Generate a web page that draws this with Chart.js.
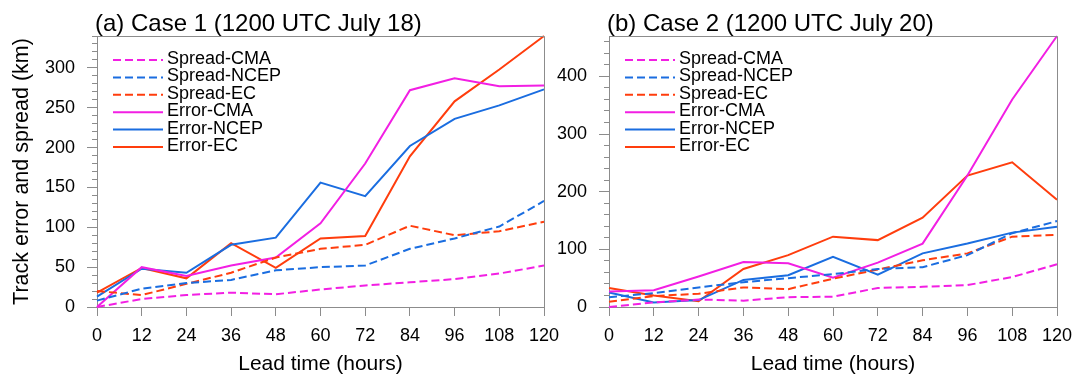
<!DOCTYPE html>
<html>
<head>
<meta charset="utf-8">
<script src="https://cdn.jsdelivr.net/npm/chart.js@4/dist/chart.umd.min.js"></script>
<style>
  html, body { margin: 0; padding: 0; background: #ffffff; }
  body { width: 1075px; height: 378px; position: relative; overflow: hidden; }
  #c1 { position: absolute; left: 0; top: 0; }
  #c2 { position: absolute; left: 540px; top: 0; }
</style>
</head>
<body>
<canvas id="c1" width="565" height="378"></canvas>
<canvas id="c2" width="535" height="378"></canvas>
<script>
// ---- data ----
const leadTimes = [0, 12, 24, 36, 48, 60, 72, 84, 96, 108, 120];
const seriesNames = ["Spread-CMA", "Spread-NCEP", "Spread-EC", "Error-CMA", "Error-NCEP", "Error-EC"];

// Case 1 (1200 UTC July 18)
const c1SpreadCMA  = [0, 10, 15, 18, 16, 22, 27, 31, 35, 42, 52];
const c1SpreadNCEP = [8, 23, 30, 34, 46, 50, 52, 73, 86, 101, 133];
const c1SpreadEC   = [20, 15, 29, 43, 62, 73, 78, 102, 90, 95, 107];
const c1ErrorCMA   = [0, 50, 39, 52, 62, 105, 180, 272, 287, 277, 278];
const c1ErrorNCEP  = [13, 48, 43, 78, 87, 156, 139, 202, 236, 253, 273];
const c1ErrorEC    = [18, 49, 36, 80, 49, 86, 89, 189, 258, 298, 340];

// Case 2 (1200 UTC July 20)
const c2SpreadCMA  = [0, 8, 13, 11, 17, 18, 33, 35, 38, 52, 74];
const c2SpreadNCEP = [17, 24, 34, 43, 50, 57, 66, 69, 90, 128, 149];
const c2SpreadEC   = [9, 19, 23, 34, 31, 49, 65, 81, 93, 122, 125];
const c2ErrorCMA   = [27, 29, 53, 78, 76, 51, 77, 110, 228, 360, 470];
const c2ErrorNCEP  = [25, 8, 12, 47, 55, 87, 56, 93, 110, 129, 139];
const c2ErrorEC    = [33, 20, 10, 66, 90, 122, 116, 155, 228, 251, 186];

const xTickStep = 12;
const c1YMax = 340, c1YStep = 50, c1YMinor = 10;
const c2YMax = 470, c2YStep = 100, c2YMinor = 20;

const titles = ["(a) Case 1 (1200 UTC July 18)", "(b) Case 2 (1200 UTC July 20)"];
const yTitle = "Track error and spread (km)";
const xTitle = "Lead time (hours)";

// ---- styles ----
const FONT = "'Liberation Sans', Arial, Helvetica, sans-serif";
const MAGENTA = '#f21fe3';
const BLUE = '#1a6de0';
const RED = '#ff3d0d';
const AXIS = '#8c8c8c';
const colors = [MAGENTA, BLUE, RED, MAGENTA, BLUE, RED];
const dashes = [[8, 4], [8, 4], [8, 4], [], [], []];

function buildDatasets(arrays) {
  return arrays.map((arr, i) => ({
    label: seriesNames[i],
    data: arr.map((v, k) => ({ x: leadTimes[k], y: v })),
    borderColor: colors[i],
    backgroundColor: colors[i],
    borderWidth: 2,
    borderDash: dashes[i],
    pointRadius: 0,
    tension: 0,
    fill: false,
    clip: false
  }));
}

const decorPlugin = {
  id: 'decor',
  afterDraw(chart, args, opts) {
    const ctx = chart.ctx;
    const a = chart.chartArea;
    ctx.save();
    // box (top and right edges)
    ctx.strokeStyle = AXIS;
    ctx.lineWidth = 1;
    ctx.beginPath();
    ctx.moveTo(Math.round(a.left) + 0.5, Math.round(a.top) + 0.5);
    ctx.lineTo(Math.round(a.right) + 0.5, Math.round(a.top) + 0.5);
    ctx.lineTo(Math.round(a.right) + 0.5, Math.round(a.bottom) + 0.5);
    ctx.stroke();
    // title
    ctx.fillStyle = '#000';
    ctx.font = '24px ' + FONT;
    ctx.textAlign = 'left';
    ctx.textBaseline = 'alphabetic';
    ctx.fillText(opts.title, a.left - 2, 31);
    // legend
    ctx.font = '18px ' + FONT;
    ctx.textBaseline = 'middle';
    chart.data.datasets.forEach((ds, i) => {
      const y = a.top + 23 + i * 17.4;
      ctx.strokeStyle = ds.borderColor;
      ctx.lineWidth = 2;
      ctx.setLineDash(ds.borderDash || []);
      ctx.beginPath();
      ctx.moveTo(a.left + 16, y + 1);
      ctx.lineTo(a.left + 66, y + 1);
      ctx.stroke();
      ctx.setLineDash([]);
      ctx.fillStyle = '#000';
      ctx.fillText(ds.label, a.left + 70, y);
    });
    ctx.restore();
  }
};

function zeroPad(s) { s.paddingLeft = 0; s.paddingRight = 0; s.paddingTop = 0; s.paddingBottom = 0; }

function makeChart(canvasId, arrays, yMax, yStep, yMinor, title, showYTitle, pad, yWidth) {
  return new Chart(document.getElementById(canvasId), {
    type: 'line',
    data: { datasets: buildDatasets(arrays) },
    plugins: [decorPlugin],
    options: {
      responsive: false,
      animation: false,
      devicePixelRatio: 1,
      layout: { padding: pad },
      plugins: {
        legend: { display: false },
        title: { display: false },
        tooltip: { enabled: false },
        decor: { title: title }
      },
      scales: {
        x: {
          type: 'linear',
          min: 0, max: 120,
          ticks: { stepSize: xTickStep, autoSkip: false, maxRotation: 0, color: '#000',
                   font: { size: 18, family: FONT }, padding: 9 },
          grid: { drawOnChartArea: false, drawTicks: true, tickLength: 9, color: AXIS },
          border: { display: true, color: AXIS, width: 1 },
          title: { display: true, text: xTitle, color: '#000',
                   font: { size: 21, family: FONT }, padding: { top: 0, bottom: 1 } },
          afterFit: s => { s.height = 71; zeroPad(s); }
        },
        y: {
          type: 'linear',
          position: 'left',
          weight: 2,
          min: 0, max: yMax,
          ticks: { stepSize: yStep, includeBounds: false, color: '#000',
                   font: { size: 18, family: FONT }, padding: 12 },
          grid: { drawOnChartArea: false, drawTicks: true, tickLength: 10, color: AXIS },
          border: { display: true, color: AXIS, width: 1 },
          title: { display: showYTitle, text: yTitle, color: '#000',
                   font: { size: 21.5, family: FONT }, padding: { top: 4, bottom: 4 } },
          afterFit: s => { s.width = yWidth; zeroPad(s); }
        },
        yMinor: {
          type: 'linear',
          position: 'left',
          weight: 1,
          min: 0, max: yMax,
          ticks: { stepSize: yMinor, includeBounds: false, display: false },
          grid: { drawOnChartArea: false, drawTicks: true, tickLength: 5, color: AXIS },
          border: { display: false },
          afterFit: s => { s.width = 0; zeroPad(s); }
        }
      }
    }
  });
}

makeChart('c1', [c1SpreadCMA, c1SpreadNCEP, c1SpreadEC, c1ErrorCMA, c1ErrorNCEP, c1ErrorEC],
  c1YMax, c1YStep, c1YMinor, titles[0], true,
  { left: 5, right: 21, top: 36, bottom: 0 }, 92);

makeChart('c2', [c2SpreadCMA, c2SpreadNCEP, c2SpreadEC, c2ErrorCMA, c2ErrorNCEP, c2ErrorEC],
  c2YMax, c2YStep, c2YMinor, titles[1], false,
  { left: 0, right: 18, top: 36, bottom: 0 }, 69);
</script>
</body>
</html>
